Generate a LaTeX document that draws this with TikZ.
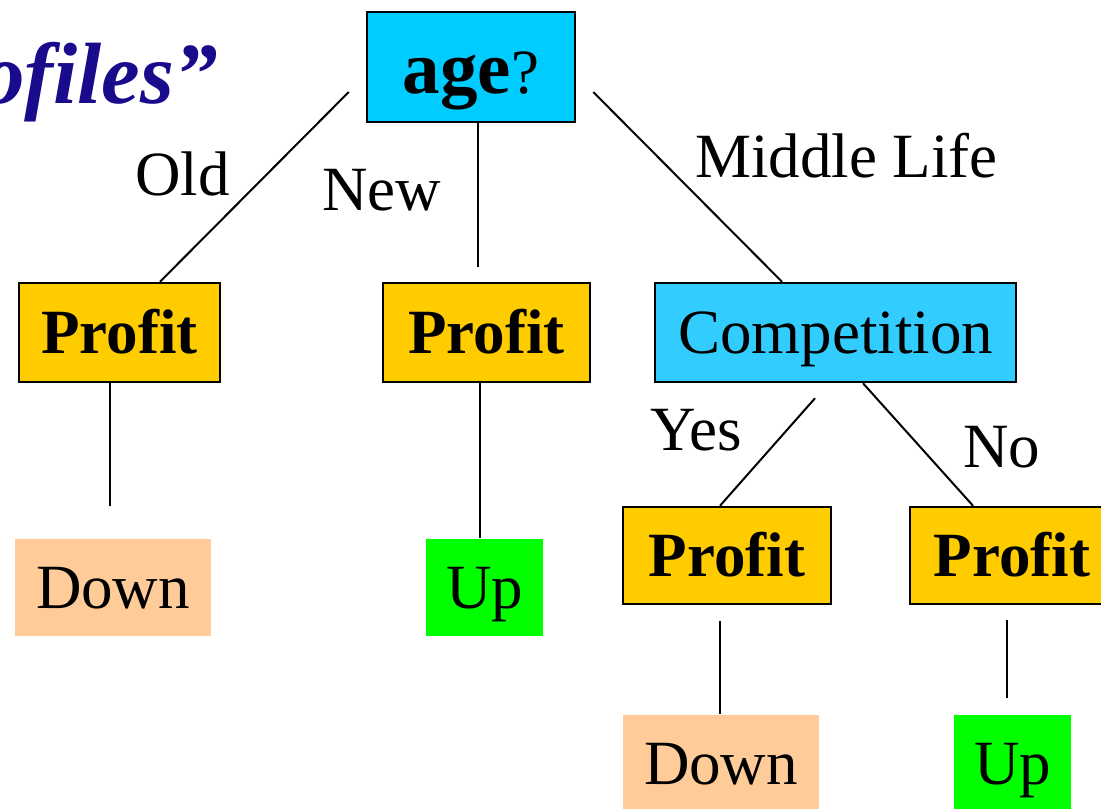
\documentclass[tikz,border=0pt]{standalone}
\usepackage{fontspec}
\setmainfont{Liberation Serif}
\usetikzlibrary{calc}
\definecolor{agecyan}{HTML}{00CCFF}
\definecolor{compcyan}{HTML}{33CCFF}
\definecolor{profityellow}{HTML}{FFCC00}
\definecolor{downpeach}{HTML}{FFCC99}
\definecolor{upgreen}{HTML}{00FF00}
\definecolor{titlenavy}{RGB}{26,10,140}
\newcommand{\labelfont}{\fontsize{63}{70}\selectfont}

\begin{document}
\begin{tikzpicture}[x=1pt,y=-1pt]
                \useasboundingbox (0,0) rectangle (1101,809);
                \clip (0,0) rectangle (1101,809);
                \node [anchor=base east, inner sep=0pt, text=titlenavy, font=\fontsize{87}{95}\selectfont\bfseries\itshape] (title) at (218,103) {ofiles”};
                \begin{scope}[every node/.style={draw, line width=2.5pt, inner sep=0pt, text depth=0pt, text height=42pt, font=\labelfont}]
                        \node [fill=agecyan, minimum width=208pt, minimum height=110pt, text height=52pt] (age) at (471,67) {{\fontsize{75}{80}\selectfont\bfseries age}?};
                        \node [fill=profityellow, minimum width=201pt, minimum height=99pt, font=\labelfont\bfseries] (p1) at (119.5,332.5) {Profit};
                        \node [fill=profityellow, minimum width=207pt, minimum height=99pt, font=\labelfont\bfseries] (p2) at (486.5,332.5) {Profit};
                        \node [fill=compcyan, minimum width=361pt, minimum height=99pt] (comp) at (835.5,332.5) {Competition};
                        \node [fill=profityellow, minimum width=208pt, minimum height=97pt, font=\labelfont\bfseries] (p3) at (727,555.5) {Profit};
                        \node [fill=profityellow, minimum width=204pt, minimum height=97pt, font=\labelfont\bfseries] (p4) at (1012,555.5) {Profit};
                        \node [draw=none, fill=downpeach, minimum width=196pt, minimum height=97pt] (down1) at (113,587.5) {Down};
                        \node [draw=none, fill=upgreen, minimum width=117pt, minimum height=97pt] (up1) at (484.5,587.5) {Up};
                        \node [draw=none, fill=downpeach, minimum width=196pt, minimum height=97pt] (down2) at (721,763.5) {Down};
                        \node [draw=none, fill=upgreen, minimum width=117pt, minimum height=97pt] (up2) at (1012.5,763.5) {Up};
                \end{scope}
                \begin{scope}[every node/.style={anchor=base west, inner sep=0pt, font=\labelfont}]
                        \node (old) at (135,195) {Old};
                        \node (new) at (322,210) {New};
                        \node (middle) at (695,177) {Middle Life};
                        \node (yes) at (650,450) {Yes};
                        \node (no) at (963,467) {No};
                \end{scope}
                \begin{scope}[every path/.style={line width=2pt}]
                        \draw ($(age.west)+(-17,25)$) -- ($(p1.north)+(40.5,0)$);
                        \draw ($(age.south)+(7,0)$) -- ($(p2.north)+(-8.5,-15)$);
                        \draw ($(age.east)+(17,25)$) -- ($(comp.north)+(-53.5,0)$);
                        \draw ($(p1.south)+(-9.5,0)$) -- ($(down1.north)+(-3,-32)$);
                        \draw ($(p2.south)+(-6.5,0)$) -- ($(up1.north)+(-4.5,0)$);
                        \draw ($(comp.south)+(-20.5,15)$) -- ($(p3.north)+(-7,0)$);
                        \draw ($(comp.south)+(27.5,0)$) -- ($(p4.north)+(-39,0)$);
                        \draw ($(p3.south)+(-7,16)$) -- ($(down2.north)+(-1,0)$);
                        \draw ($(p4.south)+(-5,15)$) -- ($(up2.north)+(-5.5,-16)$);
                \end{scope}
\end{tikzpicture}
\end{document}
